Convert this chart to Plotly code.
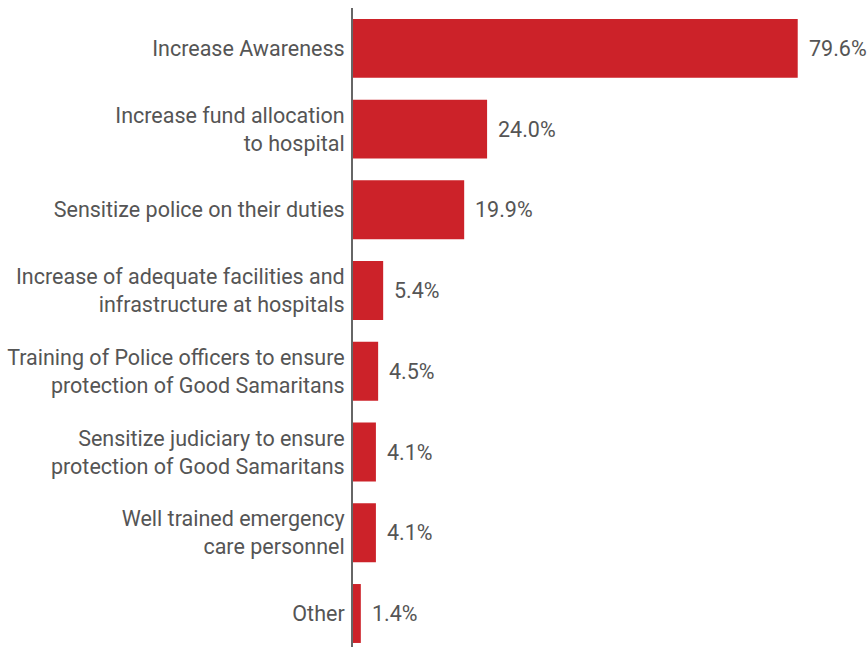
import plotly.graph_objects as go

categories = [
    "Increase Awareness",
    "Increase fund allocation<br>to hospital",
    "Sensitize police on their duties",
    "Increase of adequate facilities and<br>infrastructure at hospitals",
    "Training of Police officers to ensure<br>protection of Good Samaritans",
    "Sensitize judiciary to ensure<br>protection of Good Samaritans",
    "Well trained emergency<br>care personnel",
    "Other",
]
values = [79.6, 24.0, 19.9, 5.4, 4.5, 4.1, 4.1, 1.4]

BAR_COLOR = "#CC2229"
TEXT_COLOR = "#555555"
FONT = "Roboto"
FONT_SIZE = 21.5

fig = go.Figure(
    go.Bar(
        x=values,
        y=categories,
        orientation="h",
        marker=dict(color=BAR_COLOR, line=dict(width=0)),
        hoverinfo="skip",
    )
)

# value labels to the right of each bar
for cat, v in zip(categories, values):
    fig.add_annotation(
        x=v, y=cat, text=f"{v:.1f}%", showarrow=False,
        xanchor="left", yanchor="middle", xshift=9,
        font=dict(family=FONT, size=FONT_SIZE, color=TEXT_COLOR),
    )

fig.update_layout(
    width=867, height=647,
    margin=dict(l=353, r=0, t=8, b=0),
    paper_bgcolor="white", plot_bgcolor="white",
    bargap=0.27,
    showlegend=False,
    font=dict(family=FONT, size=FONT_SIZE, color=TEXT_COLOR),
)
fig.update_xaxes(
    range=[0, 92], visible=False, showgrid=False, zeroline=False,
)
fig.update_yaxes(
    type="category",
    range=[7.415, -0.5],
    showgrid=False, zeroline=False,
    showline=True, linecolor="#666666", linewidth=2,
    ticks="", ticklabelstandoff=2,
    tickfont=dict(family=FONT, size=FONT_SIZE, color=TEXT_COLOR),
)

fig.write_html("out.html")
